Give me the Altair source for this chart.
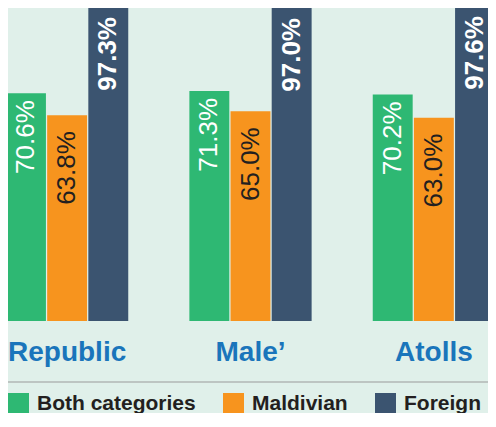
import altair as alt
import pandas as pd

groups = ["Republic", "Male’", "Atolls"]
series = ["Both categories", "Maldivian", "Foreign"]
both = [70.6, 71.3, 70.2]
maldivian = [63.8, 65.0, 63.0]
foreign = [97.3, 97.0, 97.6]
colors = ["#2eb873", "#f7941e", "#3b5470"]

rows = []
for name, vals in zip(series, [both, maldivian, foreign]):
    for g, v in zip(groups, vals):
        rows.append({"group": g, "series": name, "value": v, "label": f"{v:.1f}%"})
df = pd.DataFrame(rows)

FONT = "Liberation Sans"

x_enc = alt.X(
    "group:N", sort=groups,
    scale=alt.Scale(range=[-2, 487], paddingInner=1 / 3, paddingOuter=0),
    axis=alt.Axis(title=None, labelFontSize=28, labelFontWeight="bold",
                  labelColor="#1a75bb", labelFont=FONT, ticks=False,
                  domain=False, labelPadding=17, labelAngle=0, grid=False),
)
xo = alt.XOffset("series:N", sort=series,
                 scale=alt.Scale(domain=series, paddingInner=0.03))
y_enc = alt.Y("value:Q", scale=alt.Scale(domain=[0, 97], nice=False), axis=None)

base = alt.Chart(df)
bars = base.mark_bar().encode(
    x=x_enc, xOffset=xo, y=y_enc,
    color=alt.Color(
        "series:N", sort=series,
        scale=alt.Scale(domain=series, range=colors),
        legend=alt.Legend(
            orient="none", legendX=0, legendY=385, direction="horizontal",
            title=None, symbolType="square", symbolSize=441,
            symbolStrokeWidth=0, symbolOpacity=1, labelFontSize=21,
            labelFontWeight="bold", labelFont=FONT, labelColor="#231f20",
            labelOffset=8, columnPadding=27, padding=0,
        ),
    ),
)

offsets = {"Both categories": -7, "Maldivian": -16, "Foreign": -10}
text_colors = {"Both categories": "white", "Maldivian": "#231f20", "Foreign": "white"}
weights = {"Both categories": "normal", "Maldivian": "normal", "Foreign": "bold"}
texts = []
for s in series:
    texts.append(
        base.transform_filter(alt.datum.series == s)
        .mark_text(angle=270, align="right", baseline="middle", dx=offsets[s],
                   fontSize=26, font=FONT, fontWeight=weights[s],
                   color=text_colors[s])
        .encode(x=x_enc, xOffset=xo, y=y_enc, text="label:N")
    )

rule = alt.Chart(pd.DataFrame({"r": [0]})).mark_rule(
    color="#9a9a9a", strokeWidth=1.2
).encode(x=alt.value(-8), x2=alt.value(488), y=alt.value(374))

chart = alt.layer(bars, *texts, rule).properties(
    width=480, height=313, background="#e0f0ea",
    padding={"top": 0, "bottom": 92, "left": 0, "right": 0},
    autosize=alt.AutoSizeParams(type="none"),
).configure_view(stroke=None)

chart.save("out.html", embed_options={"renderer": "svg", "actions": False})
